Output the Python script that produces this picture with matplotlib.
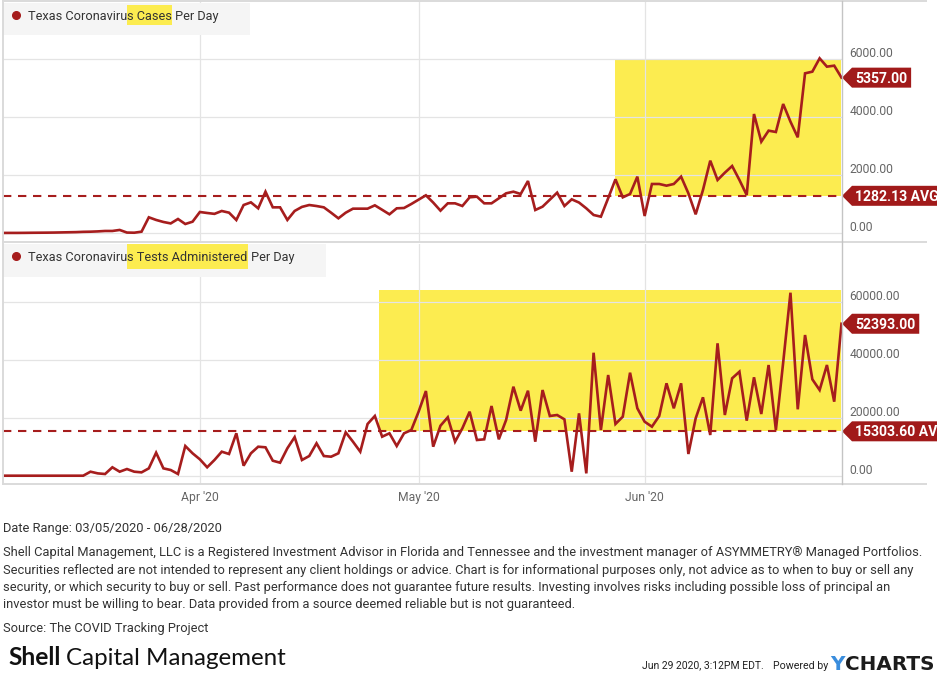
import matplotlib
matplotlib.use("Agg")
import matplotlib.pyplot as plt
import matplotlib.dates as mdates
import matplotlib.transforms as mtransforms
from matplotlib.patches import Polygon, Rectangle
from matplotlib.lines import Line2D
import pandas as pd

# ---------------- data ----------------
dates = pd.date_range("2020-03-05", "2020-06-28", freq="D")

cases = [
    2, 3, 3, 5, 8, 10, 12, 15, 20, 25,
    30, 40, 45, 55, 70, 70, 105, 15, 10, 45,
    541, 450, 380, 330, 483, 310, 390, 724, 690, 660,
    759, 701, 448, 965, 1057, 851, 1425, 885, 885, 450,
    760, 900, 965, 930, 885, 700, 506, 700, 839, 839,
    839, 954, 800, 644, 851, 862, 1000, 1150, 1300, 1050,
    770, 1023, 1023, 931, 1230, 1253, 1023, 1023, 1195, 1368,
    1425, 1345, 1793, 793, 908, 1150, 1391, 931, 1161, 1050,
    850, 621, 563, 1200, 1851, 1230, 1345, 1943, 586, 1690,
    1690, 1632, 1690, 1943, 1368, 644, 1483, 2494, 1828, 2080,
    2310, 1828, 1310, 4103, 3149, 3529, 3483, 4448, 3839, 3299,
    5506, 5563, 6023, 5736, 5770, 5357,
]

tests = [
    0, 0, 0, 0, 0, 0, 0, 0, 0, 0,
    0, 0, 1380, 800, 580, 2900, 1380, 2300, 1380, 1150,
    2530, 7930, 2530, 1960, 580, 10240, 7720, 5650, 2900, 5410,
    8280, 7480, 14620, 3450, 7720, 10000, 9790, 5170, 4480, 9450,
    13300, 5410, 6790, 11170, 6790, 6550, 7720, 14960, 11720, 8280,
    17830, 20590, 13450, 14620, 10240, 14620, 15760, 22070, 29200, 10000,
    17240, 20140, 11720, 16340, 22070, 12310, 12540, 24030, 12540, 19210,
    30690, 22420, 29310, 11720, 29540, 20590, 20930, 19440, 1380, 21500,
    800, 42400, 15760, 34720, 17830, 20340, 35520, 23240, 18620, 16900,
    20590, 31860, 23240, 31860, 7480, 19790, 27030, 14030, 45650, 20930,
    33580, 35860, 18970, 33930, 21270, 38170, 15760, 39000, 63100, 22890,
    48510, 33240, 29540, 38170, 25520, 52393,
]

cases_avg = 1282.13
tests_avg = 15303.60
cases_last = 5357.00
tests_last = 52393.00

cases_hl_start, cases_hl_top = "2020-05-28", 6000
tests_hl_start, tests_hl_top = "2020-04-25 14:00", 64000

cases_ticks = [0, 2000, 4000, 6000]
tests_ticks = [0, 20000, 40000, 60000]
cases_ylim = (-276, 8000)
tests_ylim = (-2760, 80000)

month_ticks = ["2020-04-01", "2020-05-01", "2020-06-01"]
month_labels = ["Apr '20", "May '20", "Jun '20"]

cases_title = ["Texas Coronaviru", "s Cases", " Per Day"]
tests_title = ["Texas Coronaviru", "s Tests Administered", " Per Day"]

footer_date = "Date Range: 03/05/2020 - 06/28/2020"
disclaimer = [
    "Shell Capital Management, LLC is a Registered Investment Advisor in Florida and Tennessee and the investment manager of ASYMMETRY\u00ae Managed Portfolios.",
    "Securities reflected are not intended to represent any client holdings or advice. Chart is for informational purposes only, not advice as to when to buy or sell any",
    "security, or which security to buy or sell. Past performance does not guarantee future results. Investing involves risks including possible loss of principal an",
    "investor must be willing to bear. Data provided from a source deemed reliable but is not guaranteed.",
]
source = "Source: The COVID Tracking Project"
stamp = "Jun 29 2020, 3:12PM EDT."

# ---------------- style ----------------
RED = "#a61d1d"
TAGRED = "#a11a1a"
YEL = "#fcec50"
GRID = "#e4e4e4"
BORDER = "#dadada"

plt.rcParams['font.family'] = ['Roboto', 'DejaVu Sans']

W, H = 948, 674
fig = plt.figure(figsize=(W / 100, H / 100), dpi=100, facecolor="white")
renderer = fig.canvas.get_renderer()
ID = mtransforms.IdentityTransform()


def fx(x):
    return x / W


def fy(y):
    return 1 - y / H


def text_width(s, size, weight="normal", family=None):
    t = fig.text(0, 0, s, fontsize=size, fontweight=weight,
                 family=family if family else plt.rcParams['font.family'])
    w = t.get_window_extent(renderer).width
    t.remove()
    return w


def fit(s, target, weight="normal", family=None):
    return 10 * target / text_width(s, 10, weight, family)


def ptext(x, yc, s, size, **kw):
    base = yc + 0.355 * size * 100 / 72
    return fig.text(fx(x), fy(base), s, fontsize=size, ha=kw.pop("ha", "left"),
                    va="baseline", **kw)


TICK_FS = fit("6000.00", 44)
LEG_FS = fit("Texas Coronavirus Cases Per Day", 191)
TAG_FS = fit("5357.00", 52, weight="bold")
FOOT_FS = fit(disclaimer[0], 915)


def add_ax(y0, y1):
    return fig.add_axes([fx(3), fy(y1), fx(841.5) - fx(3), (y1 - y0) / H])


ax1 = add_ax(1, 241)
ax2 = add_ax(243.7, 483.7)


def setup(ax, values, avg, hl_start, hl_top, ticks, ylim):
    ax.set_facecolor("white")
    ax.set_axisbelow("line")
    ax.plot(dates, values, color=RED, lw=1.9, solid_joinstyle="miter", zorder=3)
    ax.axhline(avg, color=RED, lw=1.5, ls=(0, (4, 3.2)), zorder=3)
    x0 = mdates.date2num(pd.Timestamp(hl_start))
    x1 = mdates.date2num(dates[-1])
    ax.add_patch(Rectangle((x0, avg), x1 - x0, hl_top - avg, fc=YEL, ec="none", zorder=1))
    ax.set_xlim(dates[0], dates[-1])
    ax.set_ylim(*ylim)
    ax.set_yticks(ticks)
    ax.set_xticks(pd.to_datetime(month_ticks))
    ax.grid(True, color=GRID, lw=0.9)
    ax.tick_params(length=0, labelleft=False, labelbottom=False)
    for s in ax.spines.values():
        s.set_visible(False)
    tr = mtransforms.offset_copy(ax.get_yaxis_transform(), fig=fig, x=8, y=2, units="dots")
    for v in ticks:
        ax.text(1.0, v, f"{v:.2f}", transform=tr, ha="left", va="baseline",
                fontsize=TICK_FS, color="#666666", clip_on=False)


setup(ax1, cases, cases_avg, cases_hl_start, cases_hl_top, cases_ticks, cases_ylim)
setup(ax2, tests, tests_avg, tests_hl_start, tests_hl_top, tests_ticks, tests_ylim)

ax2.tick_params(axis="x", labelbottom=True, pad=5, labelsize=TICK_FS, labelcolor="#666666")
ax2.set_xticklabels(month_labels)

clipbox = mtransforms.Bbox.from_extents(0, 0, 937, H)


def tag(ax, v, s):
    xd, yd = ax.transData.transform((mdates.date2num(dates[-1]), v))
    xd += 0.5
    size_px = TAG_FS * 100 / 72
    t = fig.text(xd + 13, yd - 0.355 * size_px, s, transform=ID, fontsize=TAG_FS,
                 fontweight="bold", color="white", ha="left", va="baseline", zorder=6)
    w = t.get_window_extent(renderer).width
    right = xd + 13 + w + 4
    poly = Polygon([(xd, yd), (xd + 10, yd + 10), (right, yd + 10), (right, yd - 10),
                    (xd + 10, yd - 10)], closed=True, transform=ID, fc=TAGRED, ec="none", zorder=5)
    fig.add_artist(poly)
    for a in (t, poly):
        a.set_clip_box(clipbox)
        a.set_clip_on(True)


tag(ax1, cases_last, f"{cases_last:.2f}")
tag(ax1, cases_avg, f"{cases_avg:.2f} AVG")
tag(ax2, tests_last, f"{tests_last:.2f}")
tag(ax2, tests_avg, f"{tests_avg:.2f} AVG")


def legend(box, dot_y, hl_rows, parts):
    fig.add_artist(Rectangle((fx(box[0]), fy(box[3])), fx(box[2]) - fx(box[0]), (box[3] - box[1]) / H,
                             transform=fig.transFigure, fc="#f5f5f5", ec="none", zorder=2))
    fig.add_artist(Line2D([fx(16)], [fy(dot_y)], marker="o", ms=5.5, color=RED, mec=RED,
                          transform=fig.transFigure, zorder=4))
    x = 28
    for i, p in enumerate(parts):
        t = ptext(x, dot_y, p, LEG_FS, color="#333333", zorder=4)
        ext = t.get_window_extent(renderer)
        if i == 1:
            fig.add_artist(Rectangle((ext.x0 / W, fy(hl_rows[1])), ext.width / W,
                                     (hl_rows[1] - hl_rows[0]) / H, transform=fig.transFigure,
                                     fc=YEL, ec="none", zorder=3))
        x = ext.x1


legend((3, 3, 250, 35), 15, (5, 25), cases_title)
legend((3, 243.7, 325.5, 276.7), 256, (243.7, 269), tests_title)

# frame lines
for y in (1, 241.8, 484):
    fig.add_artist(Line2D([fx(3), fx(926)], [fy(y), fy(y)], color=BORDER, lw=1.4,
                          transform=fig.transFigure, zorder=7))
fig.add_artist(Line2D([fx(3), fx(3)], [fy(1), fy(484)], color=BORDER, lw=1.4,
                      transform=fig.transFigure, zorder=7))
fig.add_artist(Line2D([fx(842), fx(842)], [fy(1), fy(484)], color="#c4c4c4", lw=1.0,
                      transform=fig.transFigure, zorder=7))

# footer
ptext(3, 527, footer_date, FOOT_FS, color="#333333")
for row, line in zip((551.7, 569, 586.3, 603.7), disclaimer):
    ptext(3, row, line, FOOT_FS, color="#333333")
ptext(3, 627, source, FOOT_FS, color="#333333")

shell_fs = fit("Shell", 53, weight="bold", family=["Lato", "DejaVu Sans"])
cap_fs = fit("Capital Management", 219, family=["Lato", "DejaVu Sans"])
ptext(8, 656, "Shell", shell_fs, fontweight="bold", family=["Lato", "DejaVu Sans"], color="#111111")
ptext(66, 656, "Capital Management", cap_fs, family=["Lato", "DejaVu Sans"], color="#111111")

stamp_fs = fit(stamp, 122)
ptext(641.7, 665, stamp, stamp_fs, color="#222222")
ptext(773, 665, "Powered by", fit("Powered by", 55), color="#222222")
yc_fs = fit("YCHARTS", 104, weight="bold", family=["DejaVu Sans"])
ty = ptext(830, 662.5, "Y", yc_fs, fontweight="bold", family=["DejaVu Sans"], color="#3a8ddd")
ex = ty.get_window_extent(renderer)
ptext(ex.x1, 662.5, "CHARTS", yc_fs, fontweight="bold", family=["DejaVu Sans"], color="#1c1c1c")

fig.savefig("out.png", dpi=100, facecolor="white")
